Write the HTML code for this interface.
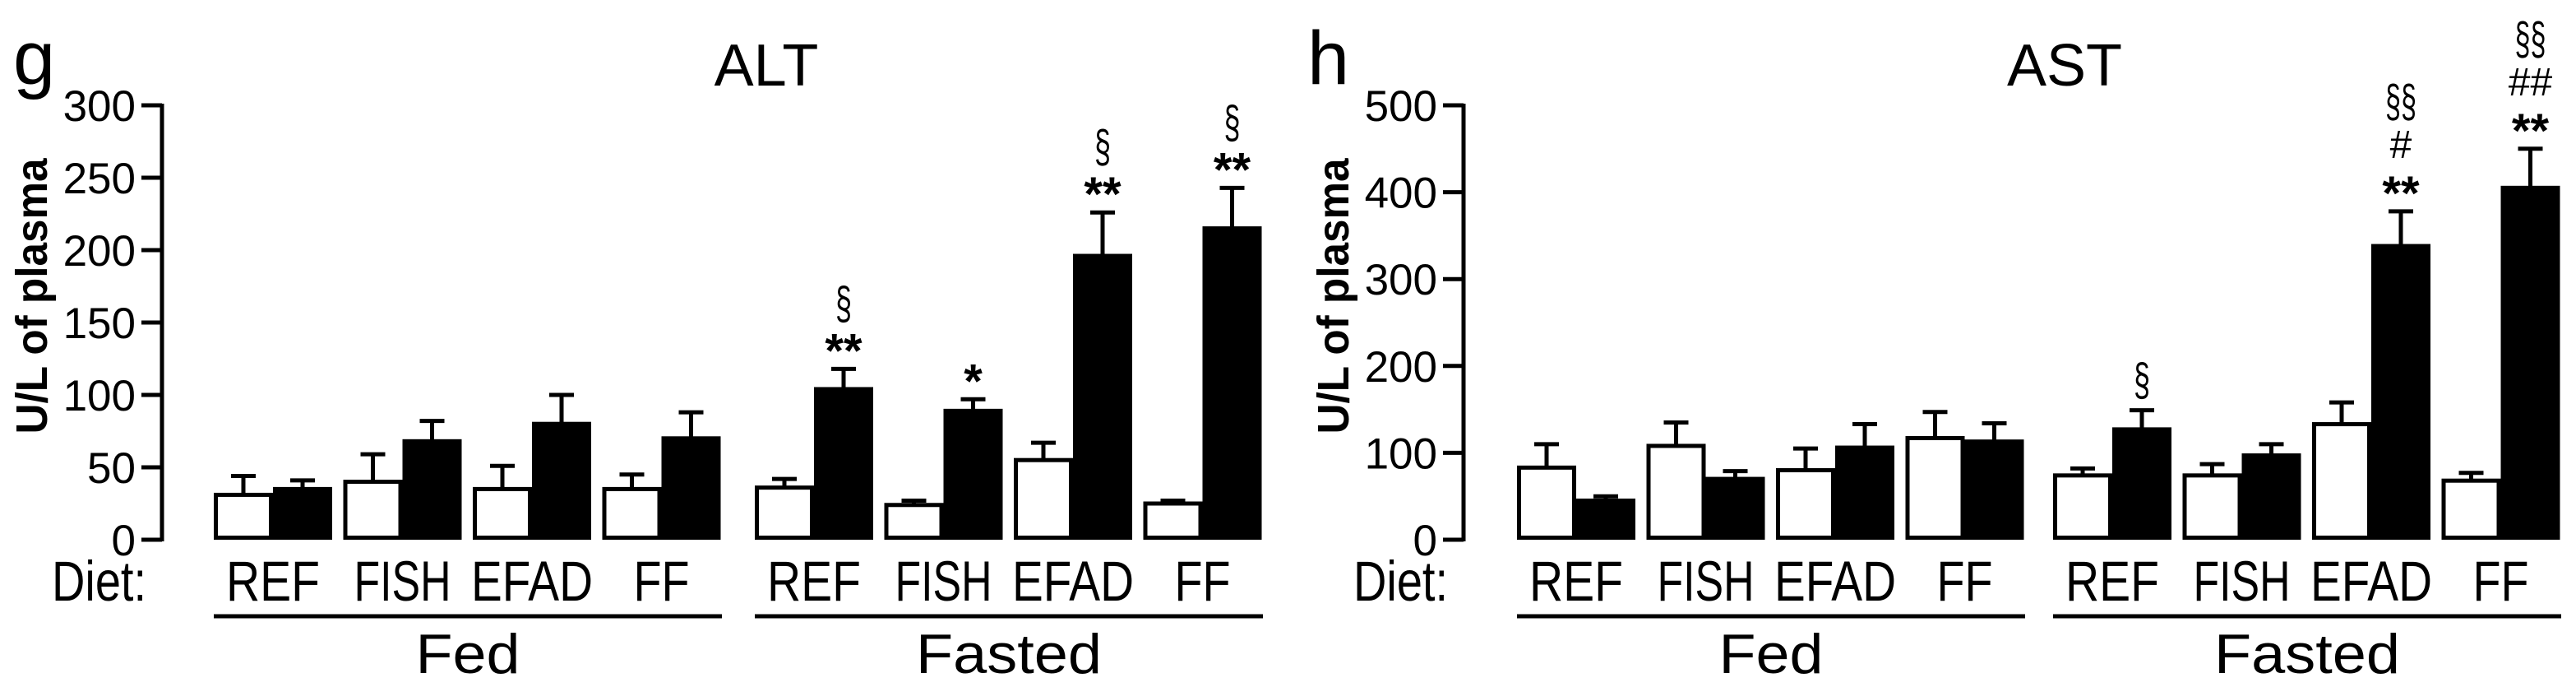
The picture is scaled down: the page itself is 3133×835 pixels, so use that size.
<!DOCTYPE html>
<html><head><meta charset="utf-8"><style>
html,body{margin:0;padding:0;background:#fff;}
svg{display:block;}
text{font-family:"Liberation Sans",sans-serif;fill:#000;}
</style></head><body>
<svg id="chart" width="3133" height="835" viewBox="0 0 3133 835" xmlns="http://www.w3.org/2000/svg"></svg>
<script>
const categories = ["REF","FISH","EFAD","FF"];
const conditions = ["Fed","Fasted"];
// ALT values (U/L), order: Fed REF..FF, Fasted REF..FF
const altWhite = [31,40,35,35, 36,24,55,25];
const altWhiteErr = [44,59,51,45, 42,27,67,27];
const altBlack = [35,68,80,70, 104,89,196,215];
const altBlackErr = [41,82,100,88, 118,97,226,243];
const altMarks = [[],[],[],[], ["**","§"],["*"],["**","§"],["**","§"]];
const altTicks = [0,50,100,150,200,250,300];
// AST values
const astWhite = [83,108,80,117, 74,74,133,68];
const astWhiteErr = [110,135,105,147, 82,87,158,77];
const astBlack = [45,70,106,113, 127,97,338,405];
const astBlackErr = [50,79,133,134, 149,110,378,450];
const astMarks = [[],[],[],[], ["§"],[],["**","#","§§"],["**","##","§§"]];
const astTicks = [0,100,200,300,400,500];

const NS="http://www.w3.org/2000/svg";
const svg=document.getElementById('chart');
function el(tag,attrs,parent,txt){const e=document.createElementNS(NS,tag);for(const k in attrs)e.setAttribute(k,attrs[k]);if(txt!==undefined)e.textContent=txt;(parent||svg).appendChild(e);return e;}

function panel(cfg){
  const g=el('g',{});
  
  
  const y0=656, yTop=128, maxV=cfg.ticks[cfg.ticks.length-1];
  const yS=v=>y0-(v/maxV)*(y0-yTop);
  const lt=el('text',{x:cfg.letterX,y:102,'font-size':92},g,cfg.letter);
  
  
  const tt=el('text',{x:cfg.titleX,y:104,'font-size':72,'text-anchor':'middle'},g,cfg.title);
  
  
  const ax=el('line',{x1:cfg.axisX,y1:yTop-2,x2:cfg.axisX,y2:y0+2,stroke:'#000','stroke-width':5},g);
  
  
  cfg.ticks.forEach(t=>{
    const y=yS(t);
    const tl=el('line',{x1:cfg.axisX-25,y1:y,x2:cfg.axisX,y2:y,stroke:'#000','stroke-width':5},g);
    
    
    const tx=el('text',{x:cfg.axisX-32,y:y+19,'font-size':53,'text-anchor':'end'},g,String(t));
    
    
  });
  const yt=el('text',{x:0,y:0,'font-size':54,'font-weight':'bold','text-anchor':'middle',textLength:335,lengthAdjust:'spacingAndGlyphs',transform:`translate(${cfg.axisX-140},360) rotate(-90)`},g,'U/L of plasma');
  
  
  const dt=el('text',{x:cfg.axisX-134,y:730,'font-size':69,textLength:115,lengthAdjust:'spacingAndGlyphs'},g,'Diet:');
  
  
  const bw=72, pitch=157.5;
  for(let i=0;i<8;i++){
    const cond=Math.floor(i/4), ci=i%4;
    const gx=cfg.startX+ci*pitch+cond*(4*pitch+cfg.gapExtra);
    const vals=[[cfg.white[i],cfg.whiteErr[i],'#fff'],[cfg.black[i],cfg.blackErr[i],'#000']];
    vals.forEach((v,j)=>{
      const x=gx+j*bw, yt2=yS(v[0]), ye=yS(v[1]), cx=x+bw/2;
      const el1=el('line',{x1:cx,y1:yt2,x2:cx,y2:ye,stroke:'#000','stroke-width':5},g);
      
      
      const cap=el('line',{x1:cx-15,y1:ye,x2:cx+15,y2:ye,stroke:'#000','stroke-width':5},g);
      
      
      const r=el('rect',{x:x+2.5,y:yt2,width:bw-5,height:y0-yt2-2.5,fill:v[2],stroke:'#000','stroke-width':5},g);
      
      
    });
    const marks=cfg.marks[i];
    let my=yS(cfg.blackErr[i])-22;
    marks.forEach((m,k)=>{
      const isStar=m[0]==='*';
      const isSec=m[0]==='§';
      const attrs={x:gx+bw*1.5,y:my+(isStar?20:(isSec?4:0)),'font-size':isStar?58:(isSec?56:48),'font-weight':isStar?'bold':'normal','text-anchor':'middle'};
      if(isSec){attrs.textLength=m.length===2?38:20;attrs.lengthAdjust='spacingAndGlyphs';}
      const mt=el('text',attrs,g,m);
      
      
      my-= (isStar?43:(m[0]==='#'?54:52));
    });
    const cl=el('text',{x:gx+bw,y:730,'font-size':69,'text-anchor':'middle',textLength:[114,118,148,68][ci],lengthAdjust:'spacingAndGlyphs'},g,categories[ci]);
    
    
  }
  conditions.forEach((c,k)=>{
    const x1=cfg.startX+k*(4*pitch+cfg.gapExtra), x2=x1+4*pitch-12;
    const ln=el('line',{x1:x1,y1:749,x2:x2,y2:749,stroke:'#000','stroke-width':5},g);
    
    
    const ct=el('text',{x:(x1+x2)/2,y:818,'font-size':68,'text-anchor':'middle',textLength:c==='Fed'?127:226,lengthAdjust:'spacingAndGlyphs'},g,c);
    
    
  });
}
panel({name:'alt',letter:'g',letterX:16,title:'ALT',titleX:932,axisX:197,startX:260,gapExtra:28,ticks:altTicks,white:altWhite,whiteErr:altWhiteErr,black:altBlack,blackErr:altBlackErr,marks:altMarks});
panel({name:'ast',letter:'h',letterX:1590,title:'AST',titleX:2511,axisX:1780,startX:1845,gapExtra:22,ticks:astTicks,white:astWhite,whiteErr:astWhiteErr,black:astBlack,blackErr:astBlackErr,marks:astMarks});
</script>
</body></html>
